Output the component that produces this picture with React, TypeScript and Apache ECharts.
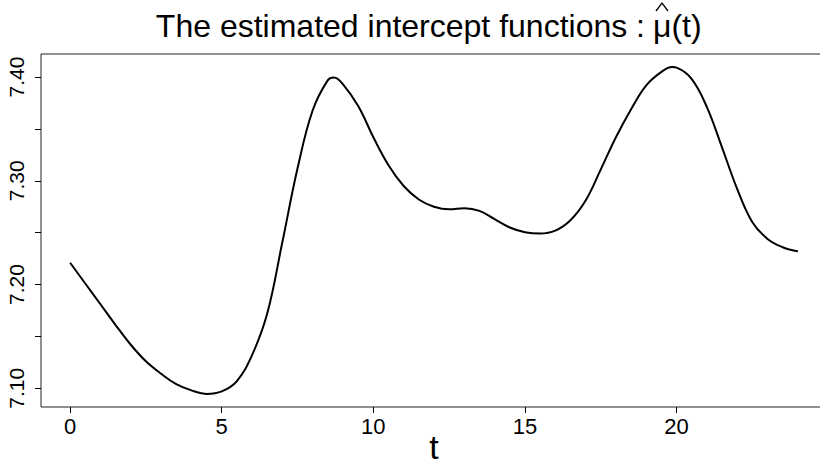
import React, { useEffect, useRef } from "react";
import * as echarts from "echarts";

// Estimated intercept function mu-hat(t), sampled along t
const tValues = [
  0, 0.5, 1, 1.5, 2, 2.5, 3, 3.5, 4, 4.5, 5, 5.5, 6, 6.5, 7, 7.5, 8, 8.5, 8.7,
  9, 9.5, 10, 10.5, 11, 11.5, 12, 12.5, 13, 13.5, 14, 14.5, 15, 15.5, 16, 16.5,
  17, 17.5, 18, 18.5, 19, 19.5, 19.85, 20, 20.5, 21, 21.5, 22, 22.5, 23, 23.5, 24,
];
const muValues = [
  7.221, 7.201, 7.181, 7.161, 7.142, 7.126, 7.114, 7.104, 7.098, 7.0946, 7.097,
  7.107, 7.132, 7.172, 7.241, 7.312, 7.368, 7.397, 7.3995, 7.393, 7.372, 7.342,
  7.315, 7.295, 7.282, 7.275, 7.2725, 7.2735, 7.271, 7.263, 7.255, 7.2505,
  7.2492, 7.252, 7.262, 7.281, 7.311, 7.342, 7.369, 7.392, 7.405, 7.4096, 7.409,
  7.398, 7.371, 7.332, 7.292, 7.26, 7.244, 7.236, 7.232,
];

const xTicks = [0, 5, 10, 15, 20];
const yTicks = [7.1, 7.15, 7.2, 7.25, 7.3, 7.35, 7.4];
const yLabels = [7.1, 7.2, 7.3, 7.4];

const titleLead = "The estimated intercept functions :";
const titleSymbol = "\u03BC(t)";
const xName = "t";

const FONT = "'Liberation Sans', Arial, Helvetica, sans-serif";

export default function App() {
  const ref = useRef<HTMLDivElement>(null);

  useEffect(() => {
    document.body.style.margin = "0";
    if (!ref.current) return;
    const chart = echarts.init(ref.current, undefined, { renderer: "svg" });

    const tMin = Math.min(...tValues);
    const tMax = Math.max(...tValues);
    const tPad = (tMax - tMin) * 0.04;
    const yMin = Math.min(...muValues);
    const yMax = Math.max(...muValues);
    const yPad = (yMax - yMin) * 0.04;

    const titleStyle = {
      fontFamily: FONT,
      fontSize: 32,
      fill: "#000",
      verticalAlign: "middle",
    };

    chart.setOption({
      animation: false,
      backgroundColor: "#ffffff",
      graphic: [
        {
          type: "text",
          x: 645,
          y: 26,
          style: { ...titleStyle, text: titleLead, align: "right" },
        },
        {
          type: "text",
          x: 653,
          y: 26,
          style: { ...titleStyle, text: titleSymbol, align: "left" },
        },
        // circumflex hat over mu
        {
          type: "polyline",
          shape: { points: [[656, 11], [662, 3], [668, 11]] },
          style: { stroke: "#000", lineWidth: 1.3, fill: "none" },
        },
      ],
      grid: {
        left: 41,
        top: 54,
        right: -7,
        bottom: 60,
        outerBoundsMode: "none",
        containLabel: false,
        show: true,
        borderColor: "#222",
        borderWidth: 1,
        backgroundColor: "transparent",
      },
      xAxis: {
        type: "value",
        min: tMin - tPad,
        max: tMax + tPad,
        name: xName,
        nameLocation: "middle",
        nameGap: 25,
        nameMoveOverlap: false,
        nameTextStyle: {
          fontFamily: FONT,
          fontSize: 34,
          lineHeight: 30,
          color: "#000",
        },
        splitLine: { show: false },
        axisLine: { show: false, onZero: false },
        axisTick: {
          show: true,
          length: 6,
          customValues: xTicks,
          lineStyle: { color: "#000" },
        },
        axisLabel: {
          customValues: xTicks,
          fontFamily: FONT,
          fontSize: 22,
          color: "#000",
          margin: 8,
        },
      },
      yAxis: {
        type: "value",
        min: yMin - yPad,
        max: yMax + yPad,
        splitLine: { show: false },
        axisLine: { show: false, onZero: false },
        axisTick: {
          show: true,
          length: 6,
          customValues: yTicks,
          lineStyle: { color: "#000" },
        },
        axisLabel: {
          customValues: yLabels,
          rotate: 90,
          fontFamily: FONT,
          fontSize: 21,
          color: "#000",
          margin: 14,
          formatter: (v: number) => v.toFixed(2),
        },
      },
      series: [
        {
          type: "line",
          data: tValues.map((t, i) => [t, muValues[i]]),
          smooth: 0.4,
          showSymbol: false,
          lineStyle: { color: "#000", width: 2 },
        },
      ],
    });

    return () => chart.dispose();
  }, []);

  return <div ref={ref} style={{ width: 820, height: 467 }} />;
}
